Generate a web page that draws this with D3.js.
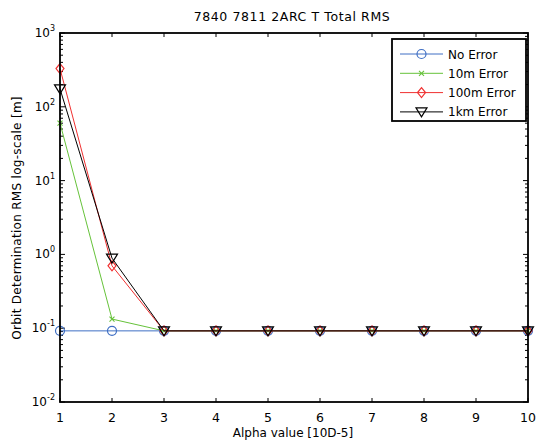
<!DOCTYPE html>
<html><head><meta charset="utf-8">
<script src="https://cdn.jsdelivr.net/npm/d3@7"></script>
<style>body{margin:0;background:#fff}svg{display:block}text{font-family:"DejaVu Sans",sans-serif}</style>
</head><body>
<svg id="c" width="537" height="441"></svg>
<script>
const alphas = [1,2,3,4,5,6,7,8,9,10];
const noError   = [0.092,0.092,0.092,0.092,0.092,0.092,0.092,0.092,0.092,0.092];
const err10m    = [60,0.133,0.092,0.092,0.092,0.092,0.092,0.092,0.092,0.092];
const err100m   = [330,0.70,0.092,0.092,0.092,0.092,0.092,0.092,0.092,0.092];
const err1km    = [175,0.89,0.092,0.092,0.092,0.092,0.092,0.092,0.092,0.092];
const seriesNames = ["No Error","10m Error","100m Error","1km Error"];
const yTickExps = [-2,-1,0,1,2,3];

const svg = d3.select("#c");
const L=60,R=528,T=33,B=402;
const x = d3.scaleLinear().domain([1,10]).range([L,R]);
const y = d3.scaleLog().domain([0.01,1000]).range([B,T]);
const fs = "12px";

svg.append("rect").attr("x",0).attr("y",0).attr("width",537).attr("height",441).attr("fill","#fff");

// ticks
const g = svg.append("g").attr("stroke","#000").attr("stroke-width",1);
alphas.forEach(a=>{
  g.append("line").attr("x1",x(a)).attr("x2",x(a)).attr("y1",B).attr("y2",B-4);
  g.append("line").attr("x1",x(a)).attr("x2",x(a)).attr("y1",T).attr("y2",T+4);
});
for(let e=-2;e<3;e++){
  for(let m=2;m<=9;m++){
    const v=m*Math.pow(10,e);
    g.append("line").attr("x1",L).attr("x2",L+3).attr("y1",y(v)).attr("y2",y(v));
    g.append("line").attr("x1",R).attr("x2",R-3).attr("y1",y(v)).attr("y2",y(v));
  }
}
yTickExps.forEach(e=>{
  const v=Math.pow(10,e);
  g.append("line").attr("x1",L).attr("x2",L+5).attr("y1",y(v)).attr("y2",y(v));
  g.append("line").attr("x1",R).attr("x2",R-5).attr("y1",y(v)).attr("y2",y(v));
});

// tick labels
alphas.forEach(a=>{
  svg.append("text").attr("x",x(a)).attr("y",B+20).attr("text-anchor","middle").attr("font-size","12.5px").text(a);
});
yTickExps.forEach(e=>{
  const t=svg.append("text").attr("x",L-5).attr("y",y(Math.pow(10,e))+4).attr("text-anchor","end").attr("font-size",fs);
  t.append("tspan").text("10");
  t.append("tspan").attr("dy",-6).attr("font-size","8px").text(e);
});

// series
const data=[
  {vals:noError,color:"#3f6fc4",marker:"circle"},
  {vals:err10m,color:"#66c23a",marker:"x"},
  {vals:err100m,color:"#f03030",marker:"diamond"},
  {vals:err1km,color:"#000000",marker:"tri"}
];
const line=d3.line().x((d,i)=>x(alphas[i])).y(d=>y(d));
function drawMarker(sel,type,cx,cy,color){
  if(type==="circle") sel.append("circle").attr("cx",cx).attr("cy",cy).attr("r",4.5).attr("fill","none").attr("stroke",color).attr("stroke-width",1.2);
  else if(type==="x") sel.append("path").attr("d",`M${cx-2.5},${cy-2.5}L${cx+2.5},${cy+2.5}M${cx-2.5},${cy+2.5}L${cx+2.5},${cy-2.5}`).attr("stroke",color).attr("stroke-width",1.1);
  else if(type==="diamond") sel.append("path").attr("d",`M${cx},${cy-5}L${cx+4},${cy}L${cx},${cy+5}L${cx-4},${cy}Z`).attr("fill","none").attr("stroke",color).attr("stroke-width",1.2);
  else sel.append("path").attr("d",`M${cx-5.5},${cy-4}L${cx+5.5},${cy-4}L${cx},${cy+5}Z`).attr("fill","none").attr("stroke",color).attr("stroke-width",1.2);
}
data.forEach(s=>{
  const gg=svg.append("g");
  gg.append("path").attr("d",line(s.vals)).attr("fill","none").attr("stroke",s.color).attr("stroke-width",1);
  s.vals.forEach((v,i)=>drawMarker(gg,s.marker,x(alphas[i]),y(v),s.color));
});

// axes box
svg.append("rect").attr("x",L).attr("y",T).attr("width",R-L).attr("height",B-T).attr("fill","none").attr("stroke","#000").attr("stroke-width",1.8);

// legend
const lg=svg.append("g");
lg.append("rect").attr("x",392).attr("y",39).attr("width",134).attr("height",82).attr("fill","#fff").attr("stroke","#000").attr("stroke-width",1.8);
seriesNames.forEach((n,i)=>{
  const yy=54+i*19.3;
  lg.append("line").attr("x1",400).attr("x2",443).attr("y1",yy).attr("y2",yy).attr("stroke",data[i].color).attr("stroke-width",1);
  drawMarker(lg,data[i].marker,421.5,yy,data[i].color);
  lg.append("text").attr("x",448).attr("y",yy+4.5).attr("font-size",fs).text(n);
});

// titles
svg.append("text").attr("x",292).attr("y",21).attr("text-anchor","middle").attr("font-size","12.5px").attr("letter-spacing","0.6px").text("7840 7811 2ARC  T Total RMS");
svg.append("text").attr("x",293).attr("y",437).attr("text-anchor","middle").attr("font-size",fs).text("Alpha value [10D-5]");
svg.append("text").attr("transform",`translate(21,218) rotate(-90)`).attr("text-anchor","middle").attr("font-size",fs).attr("letter-spacing","0.3px").text("Orbit Determination RMS  log-scale [m]");
</script>
</body></html>
